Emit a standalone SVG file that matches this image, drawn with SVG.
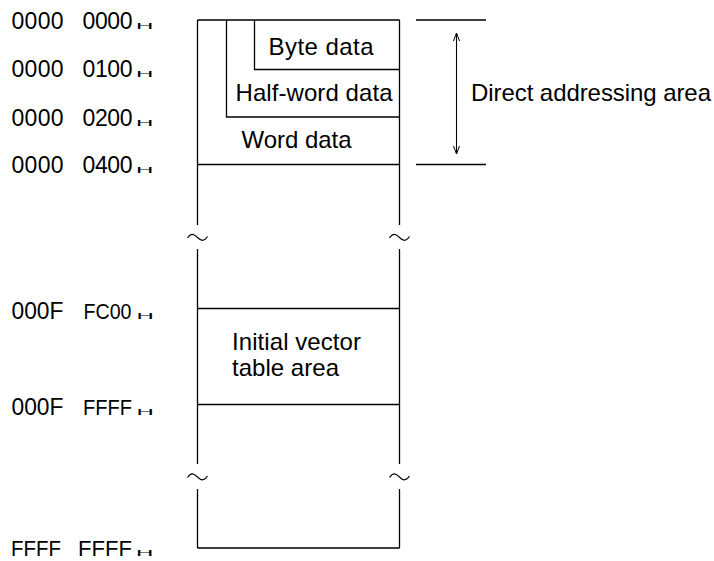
<svg xmlns="http://www.w3.org/2000/svg" width="714" height="561" viewBox="0 0 714 561">
<defs>
<style>
text{font-family:"Liberation Sans",Arial,sans-serif;fill:#000}
.lbl{font-size:23px}
.lbf{font-size:21.5px}
.box{font-size:24px}
.h{font-size:10px}
.ln{stroke:#000;stroke-width:1.3;fill:none}
.tl{stroke:#000;stroke-width:1.1;fill:none}
</style>
<marker id="ah" viewBox="0 0 8 8" refX="8" refY="4" markerWidth="8" markerHeight="8" markerUnits="userSpaceOnUse" orient="auto">
<path d="M0,1 L8,4 L0,7" fill="none" stroke="#000" stroke-width="1"/>
</marker>
</defs>
<rect width="714" height="561" fill="#fff"/>

<g id="labels">
<text class="lbl" x="11.5" y="29" textLength="52">0000</text><text class="lbl" x="82.5" y="29" textLength="50">0000</text>
<text class="h" transform="translate(136,29) scale(2.4,0.85)">H</text>
<text class="lbl" x="11.5" y="77" textLength="52">0000</text><text class="lbl" x="82.5" y="77" textLength="50">0100</text>
<text class="h" transform="translate(136,77) scale(2.4,0.85)">H</text>
<text class="lbl" x="11.5" y="126" textLength="52">0000</text><text class="lbl" x="82.5" y="126" textLength="50">0200</text>
<text class="h" transform="translate(136,126) scale(2.4,0.85)">H</text>
<text class="lbl" x="11.5" y="173" textLength="52">0000</text><text class="lbl" x="82.5" y="173" textLength="50">0400</text>
<text class="h" transform="translate(136,173) scale(2.4,0.85)">H</text>
<text class="lbl" x="11.5" y="319" textLength="52" lengthAdjust="spacingAndGlyphs">000F</text><text class="lbf" x="83.5" y="319" textLength="48" lengthAdjust="spacingAndGlyphs">FC00</text>
<text class="h" transform="translate(136.5,319) scale(2.4,0.85)">H</text>
<text class="lbl" x="11.5" y="415" textLength="52" lengthAdjust="spacingAndGlyphs">000F</text><text class="lbf" x="83" y="415" textLength="49" lengthAdjust="spacingAndGlyphs">FFFF</text>
<text class="h" transform="translate(136.5,415) scale(2.4,0.85)">H</text>
<text class="lbf" x="11" y="556" textLength="50" lengthAdjust="spacingAndGlyphs">FFFF</text><text class="lbf" x="78" y="556" textLength="54" lengthAdjust="spacingAndGlyphs">FFFF</text>
<text class="h" transform="translate(136,556) scale(2.4,0.85)">H</text>
</g>

<g id="memory-map">
<path class="ln" d="M197.5,20 H399.5 M197.5,20 V225 M399.5,20 V225 M197.5,249 V464 M399.5,249 V464 M197.5,489 V548 M399.5,489 V548 M197.5,548 H399.5"/>
</g>

<g id="byte-data">
<path class="ln" d="M254.5,20 V69.5 H400"/>
<text class="box" x="268.5" y="55" textLength="105">Byte data</text>
</g>

<g id="half-word-data">
<path class="ln" d="M226.5,20 V117 H400"/>
<text class="box" x="235.5" y="101" textLength="157">Half-word data</text>
</g>

<g id="word-data">
<path class="ln" d="M197.5,164.5 H400"/>
<text class="box" x="241.5" y="148" textLength="110">Word data</text>
</g>

<g id="initial-vector-table">
<path class="ln" d="M197.5,308.5 H400 M197.5,404.5 H400"/>
<text class="box" x="232" y="350" textLength="129">Initial vector</text>
<text class="box" x="232" y="376" textLength="107">table area</text>
</g>

<g id="breaks">
<path class="tl" d="M187.5,238 C191,232.5 194,234 197.5,237.5 C201,241 204,242 207.5,236.5"/>
<path class="tl" d="M389.5,238 C393,232.5 396,234 399.5,237.5 C403,241 406,242 409.5,236.5"/>
<path class="tl" d="M187.5,477.5 C191,472 194,473.5 197.5,477 C201,480.5 204,481.5 207.5,476"/>
<path class="tl" d="M389.5,477.5 C393,472 396,473.5 399.5,477 C403,480.5 406,481.5 409.5,476"/>
</g>

<g id="connectors">
<path class="ln" d="M416,20 H486 M416,164.5 H486"/>
<path class="tl" d="M456.5,93 V33" marker-end="url(#ah)"/>
<path class="tl" d="M456.5,93 V154" marker-end="url(#ah)"/>
</g>

<g id="direct-addressing-area">
<text class="box" x="471" y="101" textLength="240">Direct addressing area</text>
</g>
</svg>
